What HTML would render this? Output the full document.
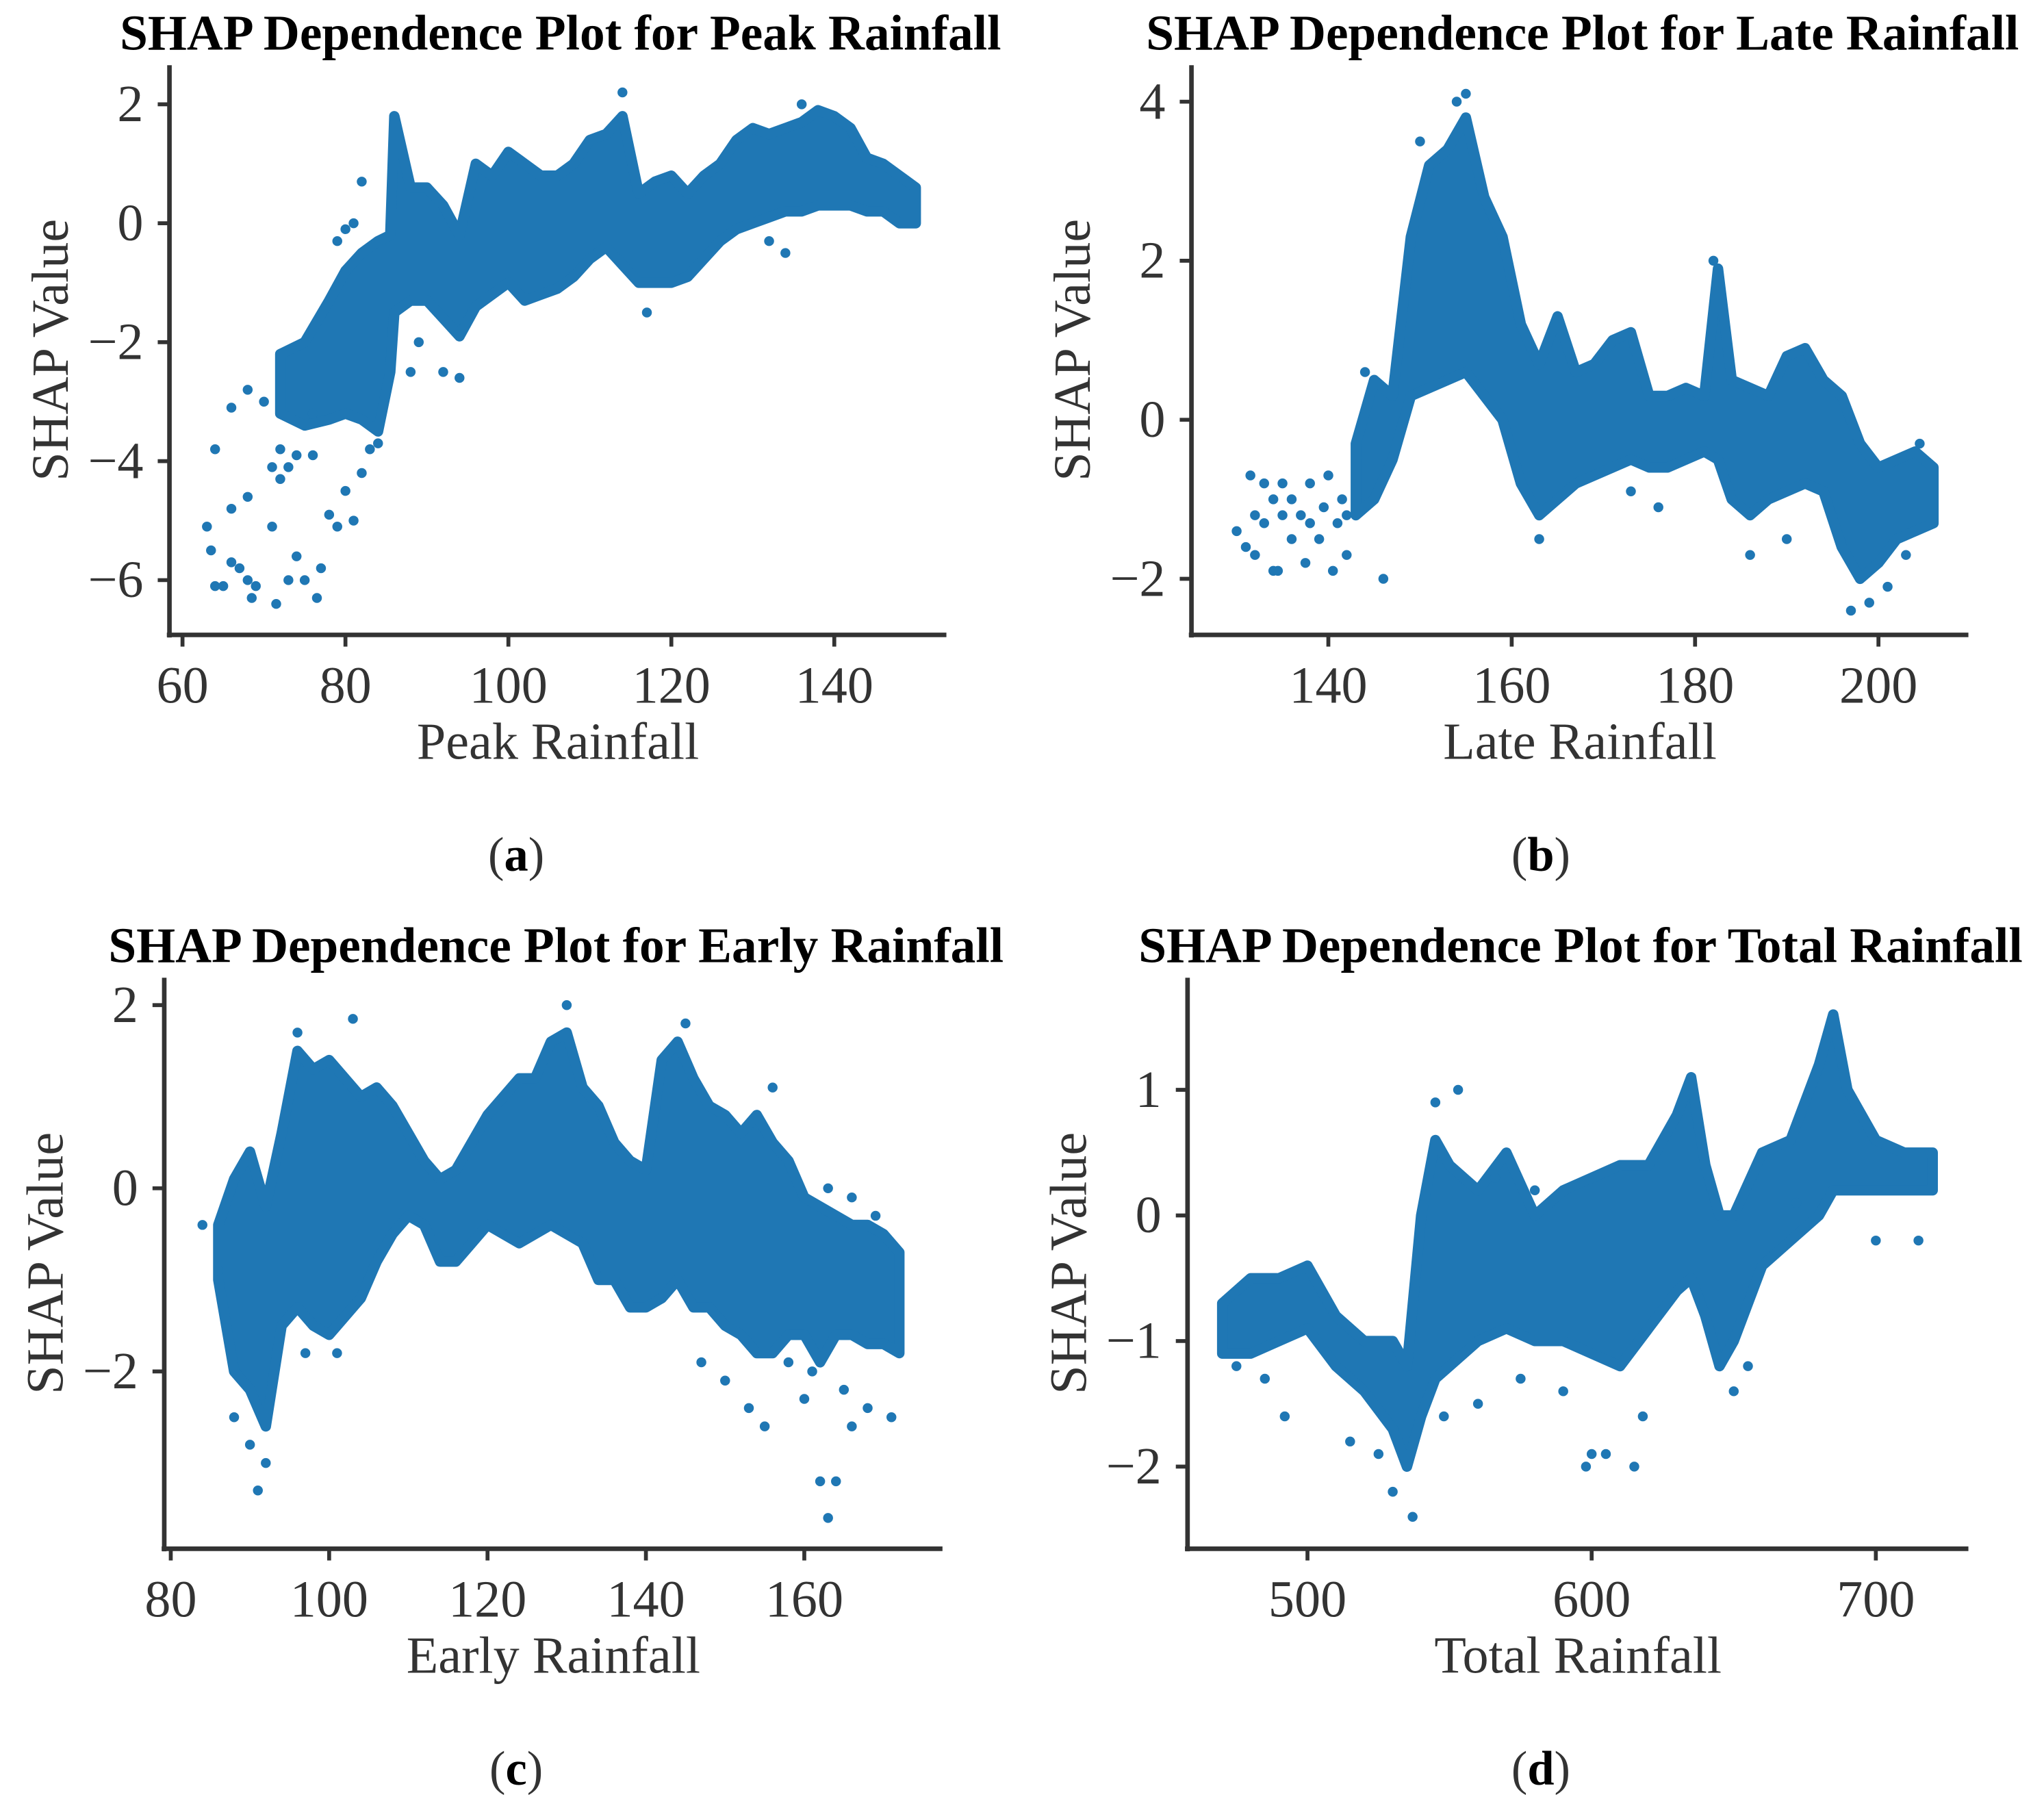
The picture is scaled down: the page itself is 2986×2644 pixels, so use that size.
<!DOCTYPE html>
<html><head><meta charset="utf-8"><style>
html,body{margin:0;padding:0;background:#fff}
svg{display:block}
text{font-family:"Liberation Serif",serif;fill:#333}
.title{font-weight:bold;fill:#000}
</style></head><body>
<svg id="fig" width="2986" height="2644" viewBox="0 0 1568 1388.4" xmlns="http://www.w3.org/2000/svg"></svg>
<script>
// Panel A: Peak Rainfall
const aX=[72,75,78,80,82,84,85.5,86,88,90,92,94,96,98,100,102,104,106,108,110,112,114,116,118,120,122,124,126,128,130,132,134,136,138,140,142,144,146,148,150];
const aLo=[-3.2,-3.4,-3.3,-3.2,-3.3,-3.5,-2.5,-1.5,-1.3,-1.3,-1.6,-1.9,-1.4,-1.2,-1.0,-1.3,-1.2,-1.1,-0.9,-0.6,-0.4,-0.7,-1.0,-1.0,-1.0,-0.9,-0.6,-0.3,-0.1,0.0,0.1,0.2,0.2,0.3,0.3,0.3,0.2,0.2,0.0,0.0];
const aHi=[-2.2,-2.0,-1.3,-0.8,-0.5,-0.3,-0.2,1.8,0.6,0.6,0.3,-0.2,1.0,0.8,1.2,1.0,0.8,0.8,1.0,1.4,1.5,1.8,0.5,0.7,0.8,0.5,0.8,1.0,1.4,1.6,1.5,1.6,1.7,1.9,1.8,1.6,1.1,1.0,0.8,0.6];
const aPtX=[63,63.5,64,65,66,67,68,68.5,69,71.5,71,73,74,75,76.5,77,64,66,68,70,72,71,73,74,76,78,79,80,81,82,80,81,82,79,88,89,92,94,114,117,134,132,136,83,84,76,66,68,72];
const aPtY=[-5.1,-5.5,-6.1,-6.1,-5.7,-5.8,-6.0,-6.3,-6.1,-6.4,-5.1,-6.0,-5.6,-6.0,-6.3,-5.8,-3.8,-3.1,-2.8,-3.0,-3.8,-4.1,-4.1,-3.9,-3.9,-4.9,-5.1,-4.5,-5.0,-4.2,-0.1,0.0,0.7,-0.3,-2.5,-2.0,-2.5,-2.6,2.2,-1.5,-0.5,-0.3,2.0,-3.8,-3.7,-3.2,-4.8,-4.6,-4.3];
const aXTicks=[60,80,100,120,140];
const aYTicks=[2,0,-2,-4,-6];
// Panel B: Late Rainfall
const bX=[143,145,147,149,151,153,155,157,159,161,163,165,167,169,171,173,175,177,179,181,182.5,184,186,188,190,192,194,196,198,200,202,204,206];
const bLo=[-1.2,-1.0,-0.5,0.3,0.4,0.5,0.6,0.3,0.0,-0.8,-1.2,-1.0,-0.8,-0.7,-0.6,-0.5,-0.6,-0.6,-0.5,-0.4,-0.5,-1.0,-1.2,-1.0,-0.9,-0.8,-0.9,-1.6,-2.0,-1.8,-1.5,-1.4,-1.3];
const bHi=[-0.3,0.5,0.3,2.3,3.2,3.4,3.8,2.8,2.3,1.2,0.7,1.3,0.6,0.7,1.0,1.1,0.3,0.3,0.4,0.3,1.9,0.5,0.4,0.3,0.8,0.9,0.5,0.3,-0.3,-0.6,-0.5,-0.4,-0.6];
const bPtX=[130,131,131.5,132,133,133,134,134.5,135,136,137,137.5,138,139,139.5,140,140.5,141,142,142,146,135,136,138,132,134,141.5,144,150,155,154,182,173,176,186,190,197,199,201,203,204.5,163];
const bPtY=[-1.4,-1.6,-0.7,-1.7,-0.8,-1.3,-1.9,-1.9,-1.2,-1.0,-1.2,-1.8,-1.3,-1.5,-1.1,-0.7,-1.9,-1.3,-1.2,-1.7,-2.0,-0.8,-1.5,-0.8,-1.2,-1.0,-1.0,0.6,3.5,4.1,4.0,2.0,-0.9,-1.1,-1.7,-1.5,-2.4,-2.3,-2.1,-1.7,-0.3,-1.5];
const bXTicks=[140,160,180,200];
const bYTicks=[4,2,0,-2];
// Panel C: Early Rainfall
const cX=[86,88,90,92,94,96,98,100,102,104,106,108,110,112,114,116,118,120,122,124,126,128,130,132,134,136,138,140,142,144,146,148,150,152,154,156,158,160,162,164,166,168,170,172];
const cLo=[-1.0,-2.0,-2.2,-2.6,-1.5,-1.3,-1.5,-1.6,-1.4,-1.2,-0.8,-0.5,-0.3,-0.4,-0.8,-0.8,-0.6,-0.4,-0.5,-0.6,-0.5,-0.4,-0.5,-0.6,-1.0,-1.0,-1.3,-1.3,-1.2,-1.0,-1.3,-1.3,-1.5,-1.6,-1.8,-1.8,-1.6,-1.6,-1.9,-1.6,-1.6,-1.7,-1.7,-1.8];
const cHi=[-0.4,0.1,0.4,-0.2,0.6,1.5,1.3,1.4,1.2,1.0,1.1,0.9,0.6,0.3,0.1,0.2,0.5,0.8,1.0,1.2,1.2,1.6,1.7,1.1,0.9,0.5,0.3,0.2,1.4,1.6,1.2,0.9,0.8,0.6,0.8,0.5,0.3,-0.1,-0.2,-0.3,-0.4,-0.4,-0.5,-0.7];
const cPtX=[84,86,88,90,91,92,96,103,130,145,150,153,155,160,162,163,164,166,168,171,147,158,161,165,156,163,166,169,97,101];
const cPtY=[-0.4,-0.9,-2.5,-2.8,-3.3,-3.0,1.7,1.85,2.0,1.8,-2.1,-2.4,-2.6,-2.3,-3.2,-3.6,-3.2,-2.6,-2.4,-2.5,-1.9,-1.9,-2.0,-2.2,1.1,0.0,-0.1,-0.3,-1.8,-1.8];
const cXTicks=[80,100,120,140,160];
const cYTicks=[2,0,-2];
// Panel D: Total Rainfall
const dX=[470,480,490,500,510,520,530,535,540,545,550,560,570,580,590,600,610,620,630,635,640,645,650,660,670,680,685,690,700,710,720];
const dLo=[-1.1,-1.1,-1.0,-0.9,-1.2,-1.4,-1.7,-2.0,-1.6,-1.3,-1.2,-1.0,-0.9,-1.0,-1.0,-1.1,-1.2,-0.9,-0.6,-0.5,-0.8,-1.2,-1.0,-0.4,-0.2,0.0,0.2,0.2,0.2,0.2,0.2];
const dHi=[-0.7,-0.5,-0.5,-0.4,-0.8,-1.0,-1.0,-1.2,0.0,0.6,0.4,0.2,0.5,0.0,0.2,0.3,0.4,0.4,0.8,1.1,0.4,0.0,0.0,0.5,0.6,1.2,1.6,1.0,0.6,0.5,0.5];
const dPtX=[475,485,492,515,525,530,537,545,553,566,575,580,598,600,605,615,618,650,655,700,715,672,590,560,548];
const dPtY=[-1.2,-1.3,-1.6,-1.8,-1.9,-2.2,-2.4,0.9,1.0,0.3,-1.3,0.2,-2.0,-1.9,-1.9,-2.0,-1.6,-1.4,-1.2,-0.2,-0.2,0.1,-1.4,-1.5,-1.6];
const dXTicks=[500,600,700];
const dYTicks=[1,0,-1,-2];

const NS='http://www.w3.org/2000/svg';
const svg=document.getElementById('fig');
const COL='#1f77b4';
function mk(tag,attrs,parent){const e=document.createElementNS(NS,tag);for(const k in attrs)e.setAttribute(k,attrs[k]);(parent||svg).appendChild(e);return e;}

function panel(p){
  const g=mk('g',{});
  
  
  const sx=v=>p.px0+(v-p.vx0)*(p.px1-p.px0)/(p.vx1-p.vx0);
  const sy=v=>p.py0+(v-p.vy0)*(p.py1-p.py0)/(p.vy1-p.vy0);
  let pts=[];
  for(let i=0;i<p.xs.length;i++)pts.push(sx(p.xs[i])+','+sy(p.hi[i]));
  for(let i=p.xs.length-1;i>=0;i--)pts.push(sx(p.xs[i])+','+sy(p.lo[i]));
  const band=mk('polygon',{points:pts.join(' '),fill:COL,stroke:COL,'stroke-width':8,'stroke-linejoin':'round'},g);
  
  
  for(let i=0;i<p.ptx.length;i++){
    const c=mk('circle',{cx:sx(p.ptx[i]),cy:sy(p.pty[i]),r:3.8,fill:COL},g);
    
    
  }
  const ya=mk('line',{x1:p.ax,y1:p.top,x2:p.ax,y2:p.ay+2,stroke:'#333','stroke-width':3.5},g);
  
  
  const xa=mk('line',{x1:p.ax-2,y1:p.ay,x2:p.right,y2:p.ay,stroke:'#333','stroke-width':3.5},g);
  
  
  p.xt.forEach(v=>{
    const x=sx(v);
    mk('line',{x1:x,y1:p.ay,x2:x,y2:p.ay+9,stroke:'#333','stroke-width':3},g);
    const t=mk('text',{x:x,y:p.ay+52,'font-size':40,'text-anchor':'middle'},g);
    t.textContent=v;
    
    
  });
  p.yt.forEach(v=>{
    const y=sy(v);
    mk('line',{x1:p.ax-9,y1:y,x2:p.ax,y2:y,stroke:'#333','stroke-width':3},g);
    const t=mk('text',{x:p.ax-20,y:y+13,'font-size':40,'text-anchor':'end'},g);
    t.textContent=v<0?'\u2212'+(-v):v;
    
    
  });
  const cx=(p.ax+p.right)/2;
  const ti=mk('text',{x:cx+2,y:p.top-12,'font-size':38.5,'text-anchor':'middle',class:'title'},g);
  ti.textContent=p.title;
  
  
  const xl=mk('text',{x:cx,y:p.ay+95,'font-size':40,'text-anchor':'middle'},g);
  xl.textContent=p.xlabel;
  
  
  const ymid=(p.top+p.ay)/2;
  const yx=p.ax-78;
  const yl=mk('text',{x:yx,y:ymid,'font-size':40,'text-anchor':'middle',transform:'rotate(-90 '+yx+' '+ymid+')'},g);
  yl.textContent='SHAP Value';
  
  
  const cap=mk('text',{x:p.capx,y:p.ay+181,'font-size':37,'text-anchor':'middle'},g);
  cap.innerHTML='(<tspan font-weight="bold" fill="#000">'+p.cap+'</tspan>)';
  
  
}

panel({id:'peak',xs:aX,lo:aLo,hi:aHi,ptx:aPtX,pty:aPtY,xt:aXTicks,yt:aYTicks,
  vx0:60,vx1:140,px0:140,px1:640,vy0:2,vy1:-6,py0:80,py1:445,
  ax:130,ay:487,top:50,right:726,title:'SHAP Dependence Plot for Peak Rainfall',xlabel:'Peak Rainfall',cap:'a',capx:396});
panel({id:'late',xs:bX,lo:bLo,hi:bHi,ptx:bPtX,pty:bPtY,xt:bXTicks,yt:bYTicks,
  vx0:140,vx1:200,px0:1019,px1:1441,vy0:4,vy1:-2,py0:78,py1:444,
  ax:914,ay:487,top:50,right:1510,title:'SHAP Dependence Plot for Late Rainfall',xlabel:'Late Rainfall',cap:'b',capx:1182});
panel({id:'early',xs:cX,lo:cLo,hi:cHi,ptx:cPtX,pty:cPtY,xt:cXTicks,yt:cYTicks,
  vx0:80,vx1:160,px0:131,px1:617,vy0:2,vy1:-2,py0:771,py1:1052,
  ax:126,ay:1188,top:750,right:723,title:'SHAP Dependence Plot for Early Rainfall',xlabel:'Early Rainfall',cap:'c',capx:396});
panel({id:'total',xs:dX,lo:dLo,hi:dHi,ptx:dPtX,pty:dPtY,xt:dXTicks,yt:dYTicks,
  vx0:500,vx1:700,px0:1003,px1:1439,vy0:1,vy1:-2,py0:836,py1:1125,
  ax:911,ay:1188,top:750,right:1510,title:'SHAP Dependence Plot for Total Rainfall',xlabel:'Total Rainfall',cap:'d',capx:1182});
</script>
</body></html>
